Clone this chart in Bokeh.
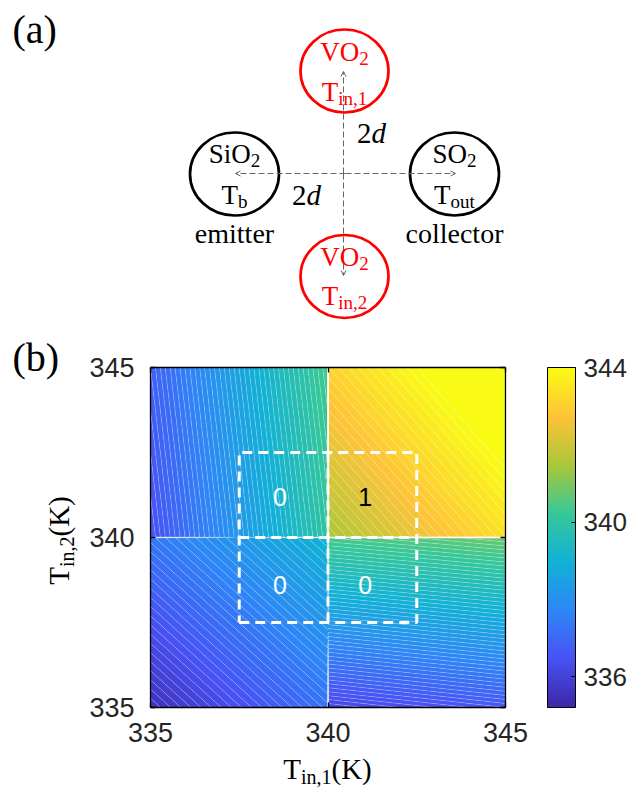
import numpy as np
from bokeh.plotting import figure
from bokeh.models import (Range1d, Label, ColorBar, LinearColorMapper, FixedTicker,
                          Arrow, OpenHead, LinearAxis)
from bokeh.embed import file_html
from bokeh.resources import INLINE
from bokeh.core.properties import value

# ---------------- data ----------------
# grid nodes of T_in,1 / T_in,2 (K): quadrant edges, with the jump at 340 K
T_IN1_NODES = [335.0, 339.99, 340.01, 345.0]
T_IN2_NODES = [335.0, 339.99, 340.01, 345.0]
# T_out (K) at the nodes, rows follow T_IN2_NODES
T_OUT = [
    [335.5, 337.25, 336.1, 336.6],
    [337.35, 339.1, 340.4, 340.8],
    [336.4, 340.0, 341.5, 343.4],
    [336.8, 340.4, 343.1, 344.9],
]
X_TICKS = [335, 340, 345]
Y_TICKS = [335, 340, 345]
CB_LOW = 335.2
CB_HIGH = 344.0
CB_TICKS = [336, 340, 344]
GATE_IN1 = [338.65, 341.05, 338.65, 341.05]
GATE_IN2 = [341.2, 341.2, 338.6, 338.6]
GATE_OUT = ["0", "1", "0", "0"]
BOX_EDGES = [337.5, 342.5]
THRESHOLD = 340.0

X_MIN, X_MAX = T_IN1_NODES[0], T_IN1_NODES[-1]
Y_MIN, Y_MAX = T_IN2_NODES[0], T_IN2_NODES[-1]

# ---------------- palette (MATLAB parula anchors) ----------------
PARULA = np.array([
    [0.2422, 0.1504, 0.6603], [0.2810, 0.3228, 0.9579], [0.1786, 0.5289, 0.9682],
    [0.0689, 0.6948, 0.8394], [0.2161, 0.7843, 0.5923], [0.6720, 0.7793, 0.2227],
    [0.9970, 0.7659, 0.2199], [0.9769, 0.9839, 0.0805]])


def parula(t):
    t = float(np.clip(t, 0.0, 1.0))
    pos = t * (len(PARULA) - 1)
    i = min(int(pos), len(PARULA) - 2)
    f = pos - i
    c = PARULA[i] * (1 - f) + PARULA[i + 1] * f
    return "#%02x%02x%02x" % tuple(int(round(v * 255)) for v in c)


levels = list(np.linspace(CB_LOW, CB_HIGH, 89)) + [CB_HIGH + 2.0]
band_colors = []
for lo_, hi_ in zip(levels[:-1], levels[1:]):
    mid = min((lo_ + hi_) / 2, CB_HIGH)
    band_colors.append(parula((mid - CB_LOW) / (CB_HIGH - CB_LOW)))
cbar_palette = [parula(k / 255) for k in range(256)]

SERIF = "Liberation Serif"
SANS = "Liberation Sans"
W_SERIF = {"V": .722, "O": .722, "S": .556, "i": .278, "T": .611, "n": .5, "t": .278,
           "u": .5, "o": .5, "b": .5, ",": .25, "1": .5, "2": .5, "e": .444, "m": .778,
           "c": .444, "l": .278, "r": .333, "(": .333, ")": .333, "K": .722, "d": .5}
BASE_FIX = 0.32   # label anchor correction (fraction of font size)


def tw(s, size):
    return sum(W_SERIF.get(ch, 0.5) for ch in s) * size


# ---------------- layout: one canvas, heat map frame placed by the scales ----------------
W, H = 627, 788
FX0, FX1 = 150.0, 505.0      # page x of X_MIN, X_MAX
FY0, FY1 = 367.0, 707.0      # page y of Y_MAX, Y_MIN
PXX = (FX1 - FX0) / (X_MAX - X_MIN)
PXY = (FY1 - FY0) / (Y_MAX - Y_MIN)


def dx(px):
    return X_MIN + (px - FX0) / PXX


def dy(py):
    return Y_MAX - (py - FY0) / PXY


p = figure(width=W, height=H, x_range=Range1d(dx(0), dx(W)), y_range=Range1d(dy(H), dy(0)),
           x_axis_type=None, y_axis_type=None, toolbar_location=None, title=None,
           output_backend="svg", min_border=0, outline_line_color=None)
p.background_fill_color = "white"
p.border_fill_color = "white"

# ---- panel (b): heat map ----
p.contour(x=T_IN1_NODES, y=T_IN2_NODES, z=np.array(T_OUT), levels=levels,
          fill_color=band_colors, line_color="white", line_alpha=0.35, line_width=0.6)

lo, hi = BOX_EDGES
p.multi_line(xs=[[lo, hi, hi, lo, lo], [THRESHOLD, THRESHOLD], [lo, hi]],
             ys=[[lo, lo, hi, hi, lo], [lo, hi], [THRESHOLD, THRESHOLD]],
             line_color="white", line_width=3, line_dash="10 6")

p.text(x=GATE_IN1, y=GATE_IN2, text=GATE_OUT,
       text_color=["black" if g == "1" else "white" for g in GATE_OUT],
       text_font=value(SANS), text_font_size="25px", text_align="center",
       text_baseline="middle")


def style_axis(ax, labels=True, standoff=10):
    ax.major_tick_in = 5
    ax.major_tick_out = 0
    ax.minor_tick_line_color = None
    ax.axis_line_color = "black"
    ax.axis_line_width = 1.3
    ax.major_tick_line_color = "black"
    ax.major_tick_line_width = 1.3
    ax.major_label_standoff = standoff
    ax.major_label_text_font = SANS
    ax.major_label_text_font_size = "27px" if labels else "0px"
    ax.major_label_text_color = "#262626"


ax_b = LinearAxis(fixed_location=Y_MIN, bounds=(X_MIN, X_MAX), ticker=FixedTicker(ticks=X_TICKS))
style_axis(ax_b, True, 15)
p.add_layout(ax_b, "below")
ax_l = LinearAxis(fixed_location=X_MIN, bounds=(Y_MIN, Y_MAX), ticker=FixedTicker(ticks=Y_TICKS))
style_axis(ax_l, True, 16)
p.add_layout(ax_l, "left")
ax_t = LinearAxis(fixed_location=Y_MAX, bounds=(X_MIN, X_MAX), ticker=FixedTicker(ticks=X_TICKS),
                  major_label_overrides={t: "" for t in X_TICKS})
style_axis(ax_t, False)
p.add_layout(ax_t, "above")
ax_r = LinearAxis(fixed_location=X_MAX, bounds=(Y_MIN, Y_MAX), ticker=FixedTicker(ticks=Y_TICKS),
                  major_label_overrides={t: "" for t in Y_TICKS})
style_axis(ax_r, False)
p.add_layout(ax_r, "right")

mapper = LinearColorMapper(palette=cbar_palette, low=CB_LOW, high=CB_HIGH)
cb = ColorBar(color_mapper=mapper, ticker=FixedTicker(ticks=CB_TICKS), width=28,
              height=int(FY1 - FY0), location=(547, H - FY1), margin=0, padding=0,
              bar_line_color="black", bar_line_width=1,
              major_tick_line_color="black", major_tick_in=4, major_tick_out=0,
              minor_tick_line_color=None, label_standoff=8,
              major_label_text_font=SANS, major_label_text_font_size="26px",
              major_label_text_color="#262626", background_fill_alpha=0,
              border_line_color=None)
p.add_layout(cb, "center")


# ---- text helper (page-pixel layout -> data coords) ----
def rich(parts, cx, base, color="black", size=27, sub=19, shift=4.5, rotated=False):
    widths = [tw(s, sub if isub else size) for s, isub, _ in parts]
    total = sum(widths)
    pos = -total / 2
    for (s, isub, ital), w in zip(parts, widths):
        fs = sub if isub else size
        off = (shift if isub else 0) - BASE_FIX * fs
        if rotated:
            x, y = base + off, cx - pos
        else:
            x, y = cx + pos, base + off
        p.add_layout(Label(x=dx(x), y=dy(y), text=s, angle=np.pi / 2 if rotated else 0,
                           text_align="left", text_baseline="alphabetic",
                           text_font=SERIF, text_font_size=f"{fs}px",
                           text_font_style="italic" if ital else "normal",
                           text_color=color))
        pos += w


rich([("T", 0, 0), ("in,1", 1, 0), ("(K)", 0, 0)], 327, 778, size=29, sub=20, shift=5)
rich([("T", 0, 0), ("in,2", 1, 0), ("(K)", 0, 0)], 540, 68, size=29, sub=20, shift=5,
     rotated=True)
p.add_layout(Label(x=dx(12), y=dy(370 - BASE_FIX * 40), text="(b)", text_font=SERIF,
                   text_font_size="40px", text_align="left", text_baseline="alphabetic",
                   text_color="black"))

# ---- panel (a): schematic ----
RED = "#ff0000"
p.ellipse(x=[dx(344), dx(344)], y=[dy(70.5), dy(276)], width=88 / PXX, height=83 / PXY,
          fill_color=None, line_color=RED, line_width=2.7)
p.ellipse(x=[dx(234), dx(454)], y=[dy(173.5), dy(173.5)], width=89 / PXX, height=83 / PXY,
          fill_color=None, line_color="black", line_width=2.7)

GRAY = "#666666"
for (xs, ys, xe, ye) in [(235, 173, 455, 173), (343, 71, 343, 275)]:
    mx, my = (xs + xe) / 2, (ys + ye) / 2
    for (a, b) in [(xs, ys), (xe, ye)]:
        p.add_layout(Arrow(end=OpenHead(size=5, line_color=GRAY, line_width=1),
                           x_start=dx(mx), y_start=dy(my), x_end=dx(a), y_end=dy(b),
                           line_color=GRAY, line_width=1, line_dash="6 3"))

rich([("VO", 0, 0), ("2", 1, 0)], 344, 60, RED)
rich([("T", 0, 0), ("in,1", 1, 0)], 344, 100, RED)
rich([("VO", 0, 0), ("2", 1, 0)], 344, 265, RED)
rich([("T", 0, 0), ("in,2", 1, 0)], 344, 304, RED)
rich([("SiO", 0, 0), ("2", 1, 0)], 234, 162)
rich([("T", 0, 0), ("b", 1, 0)], 234, 203)
rich([("emitter", 0, 0)], 234, 242, size=28)
rich([("SO", 0, 0), ("2", 1, 0)], 454, 162)
rich([("T", 0, 0), ("out", 1, 0)], 454, 203)
rich([("collector", 0, 0)], 454, 242, size=28)
rich([("2", 0, 0), ("d", 0, 1)], 371, 142, size=29)
rich([("2", 0, 0), ("d", 0, 1)], 306, 204, size=29)
p.add_layout(Label(x=dx(12), y=dy(42 - BASE_FIX * 40), text="(a)", text_font=SERIF,
                   text_font_size="40px", text_align="left", text_baseline="alphabetic",
                   text_color="black"))

open("out.html", "w").write(file_html(p, INLINE))
